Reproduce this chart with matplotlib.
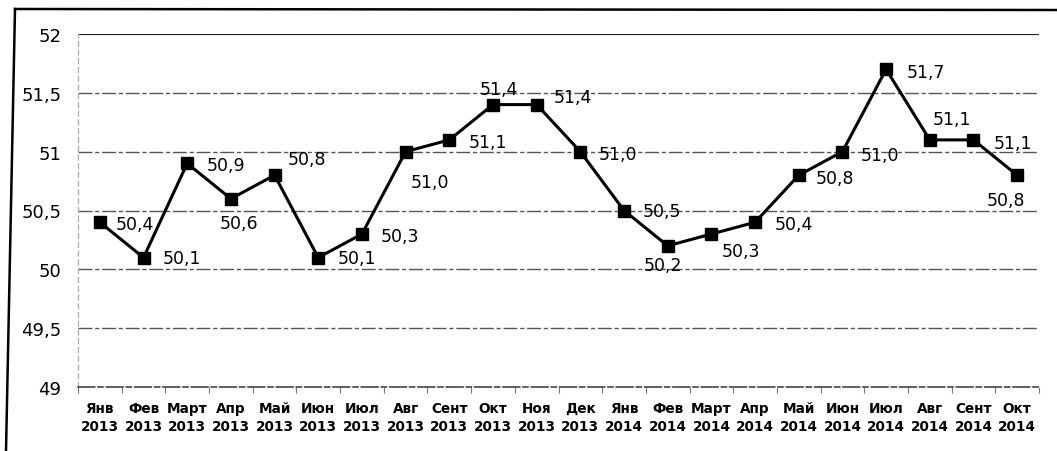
import matplotlib
matplotlib.use("Agg")
import matplotlib.pyplot as plt
from matplotlib.lines import Line2D
from matplotlib.ticker import FixedLocator

# -----------------------------
# Data
# -----------------------------

months = [
    "Янв", "Фев", "Март", "Апр", "Май", "Июн", "Июл", "Авг", "Сент", "Окт", "Ноя", "Дек",
    "Янв", "Фев", "Март", "Апр", "Май", "Июн", "Июл", "Авг", "Сент", "Окт",
]
years = ["2013"] * 12 + ["2014"] * 10

values = [
    50.4, 50.1, 50.9, 50.6, 50.8, 50.1, 50.3, 51.0, 51.1, 51.4, 51.4, 51.0,
    50.5, 50.2, 50.3, 50.4, 50.8, 51.0, 51.7, 51.1, 51.1, 50.8,
]

y_ticks = [49, 49.5, 50, 50.5, 51, 51.5, 52]

# label placement (pixels from marker: dx, dy, alignment)
label_offsets = [
    (16, -2, "left"), (19, 0, "left"), (19, -2, "left"), (8, -24, "center"),
    (13, 16, "left"), (19, 0, "left"), (19, -2, "left"), (24, -30, "center"),
    (19, -2, "left"), (6, 16, "center"), (17, 8, "left"), (18, -2, "left"),
    (19, -1, "left"), (-5, -19, "center"), (10, -17, "left"), (20, -2, "left"),
    (17, -3, "left"), (18, -3, "left"), (21, -3, "left"), (22, 21, "center"),
    (20, -3, "left"), (-11, -25, "center"),
]

# -----------------------------
# Figure
# -----------------------------

fig = plt.figure(figsize=(10.57, 4.52), dpi=100)
ax = fig.add_axes([78 / 1057, 1 - 388 / 452, (1039 - 78) / 1057, (388 - 35) / 452])

x = list(range(len(values)))

ax.plot(
    x, values,
    color="black", linewidth=2.2,
    marker="s", markersize=9, markerfacecolor="black", markeredgecolor="black",
    zorder=3,
)

for i, v in enumerate(values):
    dx, dy, ha = label_offsets[i]
    ax.annotate(
        f"{v:.1f}".replace(".", ","),
        (i, v),
        xytext=(dx * 0.72, dy * 0.72),
        textcoords="offset points",
        ha=ha, va="center",
        fontsize=12.5, color="black",
        zorder=4,
    )

# y axis
ax.set_ylim(49, 52)
ax.set_yticks(y_ticks)
ax.set_yticklabels([f"{t:g}".replace(".", ",") for t in y_ticks], fontsize=13)
ax.tick_params(axis="y", length=0, pad=12)

for t in y_ticks[1:-1]:
    ax.axhline(t, color="#555555", linewidth=1.0, linestyle=(0, (10, 2, 3, 2)), zorder=1)
ax.axhline(52, color="#222222", linewidth=1.6, zorder=1)

# x axis
ax.set_xlim(-0.5, len(values) - 0.5)
ax.set_xticks(x)
ax.set_xticklabels(
    [f"{m}\n{y}" for m, y in zip(months, years)],
    fontsize=9.8, fontweight="bold", linespacing=1.4,
)
ax.tick_params(axis="x", length=0, pad=10)
ax.xaxis.set_minor_locator(FixedLocator([i + 0.5 for i in range(-1, len(values))]))
ax.tick_params(axis="x", which="minor", length=4, color="#777777", width=0.8)

for side in ["top", "right"]:
    ax.spines[side].set_visible(False)
ax.spines["bottom"].set_color("#444444")
ax.spines["bottom"].set_linewidth(1.2)
ax.spines["bottom"].set_linestyle((0, (10, 2, 3, 2)))
ax.spines["left"].set_color("#aaaaaa")
ax.spines["left"].set_linewidth(0.9)
ax.spines["left"].set_linestyle((0, (4, 3)))

# frame of the scanned chart
fig.add_artist(Line2D([15 / 1057, 1.0], [1 - 10 / 452, 1 - 11 / 452],
                      transform=fig.transFigure, color="black", linewidth=1.8))
fig.add_artist(Line2D([15 / 1057, 6 / 1057], [1 - 10 / 452, 0.0],
                      transform=fig.transFigure, color="black", linewidth=1.8))

fig.savefig("out.png", dpi=100)
